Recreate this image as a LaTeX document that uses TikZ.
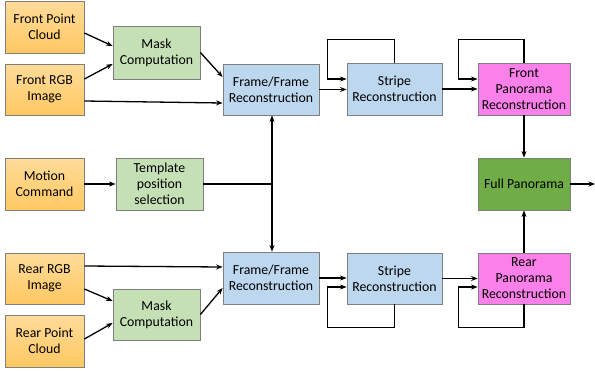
\documentclass[tikz,border=0pt]{standalone}
\usepackage{fontspec}
\setmainfont{Carlito}
\usetikzlibrary{arrows.meta,calc}
\definecolor{orT}{HTML}{FFDC9A}
\definecolor{orB}{HTML}{FFC862}
\definecolor{grF}{HTML}{C5E0B4}
\definecolor{blF}{HTML}{BDD7EE}
\definecolor{pkF}{HTML}{FB80E9}
\definecolor{fuF}{HTML}{70AD47}
\definecolor{bdr}{HTML}{7F7F7F}
\begin{document}
\begin{tikzpicture}[x=1pt,y=-1pt,
  box/.style={draw=bdr, line width=0.8pt, align=center, inner sep=0pt,
    font=\fontsize{13.8}{16}\selectfont},
  orbox/.style={box, top color=orT, bottom color=orB, minimum width=79pt},
  grbox/.style={box, fill=grF, minimum width=87pt},
  blbox/.style={box, fill=blF},
  pkbox/.style={box, fill=pkF, minimum width=92pt},
  arr/.style={-{Stealth[length=6.5pt,width=5pt]}, line width=1.3pt, black},
  ln/.style={line width=1.3pt, black}]
\useasboundingbox (0,0) rectangle (595,370);
% left inputs
\node[orbox, minimum height=52pt] (fpc) at (44.5,27) {Front Point\\Cloud};
\node[orbox, minimum height=51pt] (frgb) at (44.5,89.5) {Front RGB\\Image};
\node[orbox, minimum height=52pt] (mot) at (44.5,184) {Motion\\Command};
\node[orbox, minimum height=51pt] (rrgb) at (44.5,278.5) {Rear RGB\\Image};
\node[orbox, minimum height=52pt] (rpc) at (44.5,341) {Rear Point\\Cloud};
% green
\node[grbox, minimum height=53pt] (mask1) at (156.5,52.5) {Mask\\Computation};
\node[grbox, minimum height=52pt] (tmpl) at (159.5,184) {Template\\position\\selection};
\node[grbox, minimum height=51pt] (mask2) at (156.5,314.5) {Mask\\Computation};
% blue
\node[blbox, minimum width=96pt, minimum height=51pt] (ff1) at (271,89.5) {Frame/Frame\\Reconstruction};
\node[blbox, minimum width=96pt, minimum height=52pt] (ff2) at (271,278) {Frame/Frame\\Reconstruction};
\node[blbox, minimum width=95pt, minimum height=52pt] (st1) at (394.5,89) {Stripe\\Reconstruction};
\node[blbox, minimum width=95pt, minimum height=51pt] (st2) at (394.5,278.5) {Stripe\\Reconstruction};
% pink / full
\node[pkbox, minimum height=52pt] (fp) at (524,89) {Front\\Panorama\\Reconstruction};
\node[pkbox, minimum height=51pt] (rp) at (524,278.5) {Rear\\Panorama\\Reconstruction};
\node[box, fill=fuF, minimum width=92pt, minimum height=52pt] (full) at (524,184) {Full Panorama};
\coordinate (out) at (595,184);
\coordinate (j) at (272,184);
% front arrows
\draw[arr] ([yshift=-6pt]fpc.east) -- ([yshift=6.5pt]mask1.west);
\draw[arr] ([yshift=10.5pt]frgb.east) -- ([yshift=-11.5pt]mask1.west);
\draw[arr] (mask1.east) -- ([yshift=12.5pt]ff1.west);
\draw[arr] ([yshift=-11.5pt]frgb.east) -- ([yshift=-13.5pt]ff1.west);
\draw[arr] (ff1.east) -- (ff1.east -| st1.west);
\draw[arr] (st1.north) -- ++(0,-23) -| ($(st1.west)+(-19,-10)$) -- ([yshift=10pt]st1.west);
\draw[arr] (st1.east) -- (st1.east -| fp.west);
\draw[arr] (fp.north) -- ++(0,-23) -| ($(fp.west)+(-19,-10)$) -- ([yshift=10pt]fp.west);
\draw[arr] (fp.south) -- (full.north);
\draw[arr] (full.east) -- (out);
\draw[arr] (rp.north) -- (full.south);
% motion
\draw[arr] (mot.east) -- (tmpl.west);
\draw[ln] (tmpl.east) -- (j);
\draw[arr] (j) -- (j |- ff1.south);
\draw[arr] (j) -- (j |- ff2.north);
% rear arrows
\draw[arr] ([yshift=12.5pt]rrgb.east) -- ([yshift=11pt]ff2.west);
\draw[arr] ([yshift=-10.5pt]rrgb.east) -- ([yshift=13.5pt]mask2.west);
\draw[arr] ([yshift=2pt]rpc.east) -- ([yshift=-8.5pt]mask2.west);
\draw[arr] (mask2.east) -- ([yshift=-10pt]ff2.west);
\draw[arr] (ff2.east) -- (ff2.east -| st2.west);
\draw[arr] (st2.south) -- ++(0,23) -| ($(st2.west)+(-19,8.5)$) -- ([yshift=-8.5pt]st2.west);
\draw[arr] (st2.east) -- (st2.east -| rp.west);
\draw[arr] (rp.south) -- ++(0,23) -| ($(rp.west)+(-19,8.5)$) -- ([yshift=-8.5pt]rp.west);
\end{tikzpicture}
\end{document}
